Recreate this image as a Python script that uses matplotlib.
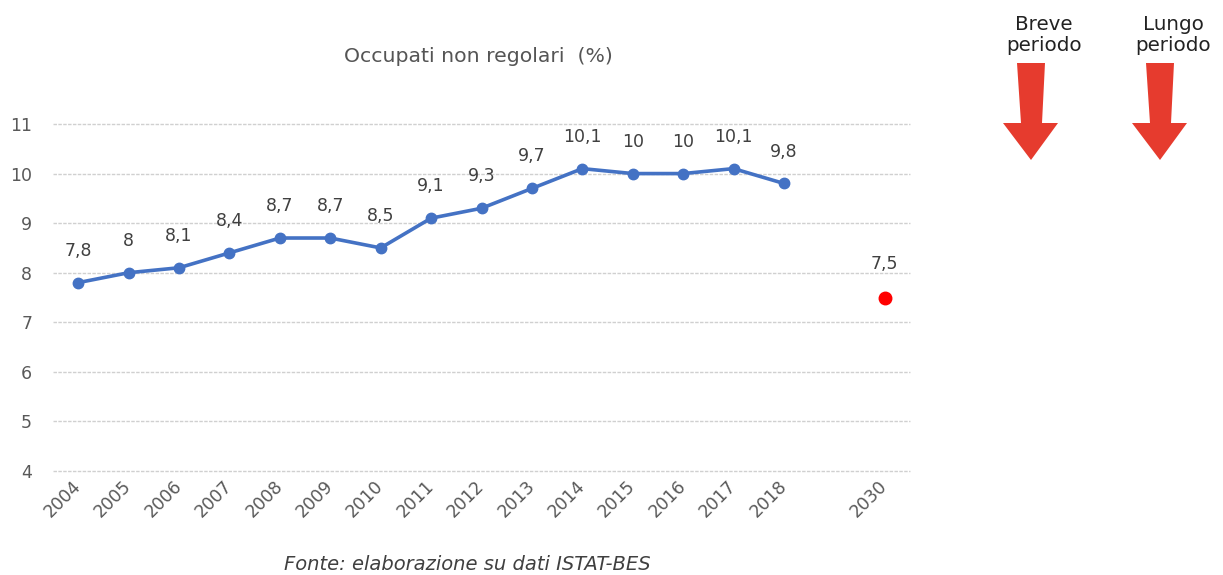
import matplotlib
matplotlib.use('Agg')
import matplotlib.pyplot as plt
from matplotlib.patches import Polygon

# data
years = ['2004', '2005', '2006', '2007', '2008', '2009', '2010', '2011',
         '2012', '2013', '2014', '2015', '2016', '2017', '2018']
values = [7.8, 8.0, 8.1, 8.4, 8.7, 8.7, 8.5, 9.1, 9.3, 9.7, 10.1, 10.0, 10.0, 10.1, 9.8]
target_year = '2030'
target_value = 7.5
# one empty category between 2018 and 2030
categories = years + [''] + [target_year]
y_ticks = [4, 5, 6, 7, 8, 9, 10, 11]

W, H = 1223, 575
fig = plt.figure(figsize=(W / 100, H / 100), dpi=100)
ax = fig.add_axes([53 / W, 1 - 471 / H, (910 - 53) / W, (471 - 124) / H])

x_line = list(range(len(years)))
x_target = categories.index(target_year)

ax.plot(x_line, values, color='#4472C4', lw=2.6, marker='o', ms=7.5, zorder=3)
ax.plot([x_target], [target_value], 'o', color='#FF0000', ms=9, zorder=3)


def lab(v):
    return f'{v:g}'.replace('.', ',')


for xi, v in zip(x_line, values):
    ax.annotate(lab(v), (xi, v), xytext=(0, 23), textcoords='offset points',
                ha='center', va='center', fontsize=12.5, color='#404040')
ax.annotate(lab(target_value), (x_target, target_value), xytext=(0, 24),
            textcoords='offset points', ha='center', va='center',
            fontsize=12.5, color='#404040')

ax.set_xlim(-0.5, len(categories) - 0.5)
ax.set_ylim(4, 11)
ax.set_yticks(y_ticks)
ax.set_yticklabels([str(t) for t in y_ticks], fontsize=12.5, color='#595959')
ax.set_xticks(range(len(categories)))
ax.set_xticklabels(categories, rotation=45, ha='right', va='center',
                   rotation_mode='anchor', fontsize=12.5, color='#595959')
ax.tick_params(axis='y', length=0, pad=15)
ax.tick_params(axis='x', length=0, pad=9)
ax.grid(axis='y', color='#D0D0D0', lw=1.0, ls=(0, (2.5, 1)))
for gl in ax.get_ygridlines():
    gl.set_clip_on(False)
ax.set_axisbelow(True)
for s in ax.spines.values():
    s.set_visible(False)

fig.text(478 / W, 1 - 57 / H, 'Occupati non regolari  (%)', ha='center', va='center',
         fontsize=14.7, color='#555555')
fig.text(467 / W, 1 - 565 / H, 'Fonte: elaborazione su dati ISTAT-BES', ha='center',
         va='center', fontsize=14, style='italic', color='#404040')

# overlay in pixel coordinates for the arrows and their captions
ov = fig.add_axes([0, 0, 1, 1], facecolor='none')
ov.set_xlim(0, W)
ov.set_ylim(H, 0)
ov.axis('off')

red = '#E63B2E'
for cx, cap in [(1031, 'Breve\nperiodo'), (1160, 'Lungo\nperiodo')]:
    pts = [(cx - 14, 63), (cx + 14, 63), (cx + 11, 123), (cx + 27, 123),
           (cx, 160), (cx - 28, 123), (cx - 10, 123)]
    ov.add_patch(Polygon(pts, closed=True, color=red, lw=0))
    ov.text(cx + 13, 35, cap, ha='center', va='center', fontsize=14.3,
            color='#222222', linespacing=1.15)

fig.savefig('out.png', dpi=100)
